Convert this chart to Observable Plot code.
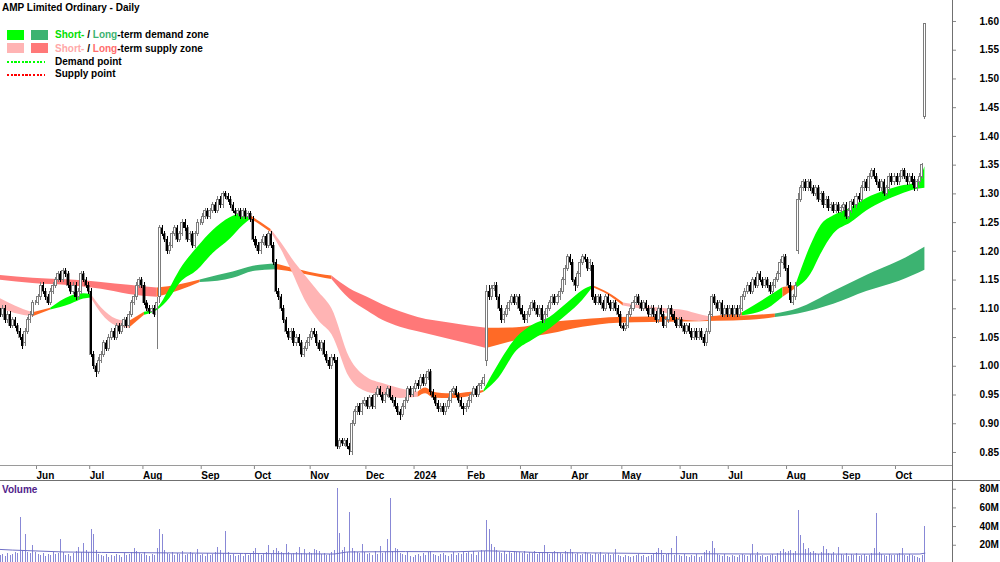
<!DOCTYPE html>
<html><head><meta charset="utf-8">
<script src="https://cdn.jsdelivr.net/npm/d3@7"></script>
<script src="https://cdn.jsdelivr.net/npm/@observablehq/plot@0.6"></script>
<style>
body{margin:0;background:#fff;font-family:"Liberation Sans",Arial,Helvetica,sans-serif;}
#wrap{position:relative;width:1000px;height:562px;overflow:hidden;background:#fff;}
.abs{position:absolute;}
.t{font-size:10px;font-weight:bold;color:#000;white-space:nowrap;line-height:10px;}
</style></head><body><div id="wrap"></div>
<script>
// ---------- DATA (prices in cents, one trading day per entry, 12 May 2023 .. 17 Oct 2024) ----------
const open = [
109.5,109,110,108,109,107,108,107,106,105,104,106,108,109,
111,111,112,114,113,112,111,113,114,115,116,115,116.5,116,114,113,114,112,113,116,115,
114,113,102,100,99,101,102,104,103,105,106,105,107,106,107,108,107,109,111,112,114,
115,114,111,110,109.5,110,110,112,124,123,122,120,121,123,124,122,123,125,124,122,123,121,123,
125,125,126,127,126,127,128,127,129,128,130,129.5,129,128,127,126.5,127,126,127,126,126.5,
125.5,122,121,120,121.5,122.5,121,123,121,118,113,112,110,108,106,105,106,104,105,104,102,103,
104,105,106,105.5,104,103,104,102,101,100,101.5,101,86,87,86.5,87,86,85,90,92,93,92,
93.5,94,93,94.5,93,95,96,95,94,95,96,94.5,94,93,92,91.5,93,94,96,
95,96,97,96.5,98,97,98,99,95.5,94.5,93.5,92.5,93,92,93,94,95.5,96,95,94,93,
92.5,93,94,95,96,95,96.5,97,101,113,112,113.5,114,112,110,108,109,110,111,112,111,
112,110,109,108,109,110,111,110,109,110,108,109,110,111,112,111,112,113,115,117,
119,118,115,114,116,118,119,118.5,117,117.5,112,111,112,111,110,112,111,110,111,110,
109,107,106.5,107,109,110,111,112,111,110,111,110,109,110,109,108,110,109,107,108,110,109,108,
107,108,107,106,107,106,105,106,105,106,105,104,106,109,112,111,110,111,109,
110,109,110,109,110,109,110,112,113,114,113,115,114,116,115,114,115,114,113,114,115,116,118,
119,117,114,111,112,120,129,131,132,131,132,131,130,131,129,130,128,129,127.5,128,127,128,
127,127.5,128,126,127,128.5,128,129.5,129,131,132,131,133,134,133,132,131,132,130,131,133,
132,133,132,133,134,133,132,133,132.5,131,132,133,143.3];
const high = [
110,110.5,110.5,109.5,109.5,108.5,108.5,107.5,106.5,105.5,106.5,108.5,109.5,111.5,
111.5,112.5,114.5,114.5,113.5,112.5,113.5,114.5,115.5,116.5,116.5,117,117,116.5,114.5,114.5,114.5,113.5,116.5,116.5,115.5,
114.5,113.5,102.5,100.5,101.5,102.5,104.5,104.5,105.5,106.5,106.5,107.5,107.5,107.5,108.5,108.5,109.5,111.5,112.5,114.5,115.5,
115.5,114.5,111.5,110.5,110.5,110.5,112,124.5,124.5,123.5,122.5,121.5,123.5,124.5,124.5,123.5,125.5,125.5,124.5,123.5,123.5,123.5,125.5,
125.5,126.5,127.5,127.5,127.5,128.5,128.5,129.5,129.5,130.5,130.5,130,129.5,128.5,127.5,127.5,127.5,127.5,127.5,127,127,
126,122.5,121.5,122,123,123,123.5,123.5,121.5,118.5,113.5,112.5,110.5,108.5,106.5,106.5,106.5,105.5,105.5,104.5,103.5,104.5,
105.5,106.5,106.5,106,104.5,104.5,104.5,102.5,101.5,102,102,101.5,87.5,87.5,87.5,87.5,86.5,90.5,92.5,93.5,93.5,94,
94.5,94.5,95,95,95.5,96.5,96.5,95.5,95.5,96.5,96.5,95,94.5,93.5,92.5,93.5,94.5,96.5,96.5,
96.5,97.5,97.5,98.5,98.5,98.5,99.5,99.5,96,95,94,93.5,93.5,93.5,94.5,96,96.5,96.5,95.5,94.5,93.5,
93.5,94.5,95.5,96.5,96.5,97,97.5,98.5,114,114,114,114.5,114.5,112.5,110.5,109.5,110.5,111.5,112.5,112.5,112.5,
112.5,110.5,109.5,109.5,110.5,111.5,111.5,110.5,110.5,110.5,109.5,110.5,111.5,112.5,112.5,112.5,113.5,115.5,117.5,119.5,
119.5,118.5,115.5,116.5,118.5,119.5,119.5,119,118.5,118,112.5,112.5,112.5,111.5,112.5,112.5,111.5,111.5,111.5,110.5,
109.5,107.5,107.5,109.5,110.5,111.5,112.5,112.5,111.5,111.5,111.5,110.5,110.5,110.5,109.5,110.5,110.5,109.5,108.5,110.5,110.5,109.5,108.5,
108.5,108.5,107.5,107.5,107.5,106.5,106.5,106.5,106.5,106.5,105.5,106.5,109.5,112.5,112.5,111.5,111.5,111.5,110.5,
110.5,110.5,110.5,110.5,110.5,110.5,112.5,113.5,114.5,114.5,115.5,115.5,116.5,116.5,115.5,115.5,115.5,114.5,114.5,115.5,116.5,118.5,119.5,
119.5,117.5,114.5,112.5,114.5,130,131.5,132.5,132.5,132.5,132.5,131.5,131.5,131.5,130.5,130.5,129.5,129.5,128.5,128.5,128.5,128.5,
128,128.5,128.5,127.5,129,129,130,130,131.5,132.5,132.5,133.5,134.5,134.5,133.5,132.5,132.5,132.5,131.5,133.5,133.5,
133.5,133.5,133.5,134.5,134.5,133.5,133.5,133.5,133,132.5,133.5,135.3,159.5];
const low = [
108.5,108.5,107.5,107.5,106.5,106.5,106.5,105.5,104.5,103,103.5,105.5,107.5,108.5,
110.5,110.5,111.5,112.5,111.5,110.5,110.5,112.5,113.5,114.5,114.5,114.5,115.5,113.5,112.5,112.5,111.5,111.5,112.5,114.5,113.5,
112.5,101.5,99.5,98,98.5,100.5,101.5,102.5,102.5,104.5,104.5,104.5,105.5,105.5,106.5,106.5,106.5,108.5,110.5,111.5,113.5,
113.5,110.5,109.5,109,109,108.5,103,111,122.5,121.5,119.5,119.5,120.5,122.5,121.5,121.5,122.5,123.5,121.5,121.5,120.5,120.5,122.5,
124.5,124.5,125.5,125.5,125.5,126.5,126.5,126.5,127.5,127.5,129,128.5,127.5,126.5,126,126,125.5,125.5,125.5,125.5,125,
121.5,120.5,119.5,119.5,121,120.5,120.5,120.5,117.5,112.5,111.5,109.5,107.5,105.5,104.5,104.5,103.5,103.5,103.5,101.5,101.5,102.5,
103.5,104.5,105,103.5,102.5,102.5,101.5,100.5,99.5,99.5,100.5,85.5,85.5,86,86,85.5,84.5,84.5,89.5,91.5,91.5,91.5,
93,92.5,92.5,92.5,92.5,94.5,94.5,93.5,93.5,94.5,94,93.5,92.5,91.5,90.5,91,92.5,93.5,94.5,
94.5,95.5,96,96,96.5,96.5,97.5,95,94,93,92,92,91.5,91.5,92.5,93.5,95,94.5,93.5,92.5,91.5,
92,92.5,93.5,94.5,94.5,94.5,96,96.5,100,111.5,111.5,113,111.5,109.5,107.5,107.5,108.5,109.5,110.5,110.5,110.5,
109.5,108.5,107.5,107.5,108.5,109.5,109.5,108.5,108.5,107.5,107.5,108.5,109.5,110.5,110.5,110.5,111.5,112.5,114,116.5,
117.5,114.5,113,113.5,115.5,117.5,118,116.5,116.5,111.5,110.5,110.5,110.5,109.5,109.5,110.5,109.5,109.5,109.5,108.5,
106.5,106,106,106.5,108.5,109.5,110.5,110.5,109.5,109.5,109.5,108.5,108.5,108.5,107.5,107.5,108.5,106.5,106.5,107.5,108.5,107.5,106.5,
106.5,106.5,105.5,105.5,105.5,104.5,104.5,104.5,104.5,104.5,103.5,103.5,105.5,108.5,110.5,109.5,109.5,108.5,108.5,
108.5,108.5,108.5,108.5,108.5,108.5,109.5,111.5,112.5,112.5,112.5,113.5,113.5,114.5,113.5,113.5,113.5,112.5,112.5,113.5,114.5,115.5,117.5,
116.5,113.5,111,110.5,111.5,119.5,128.5,130.5,130.5,130.5,130.5,129.5,129.5,128.5,128.5,127.5,127.5,127,127,126.5,126.5,126.5,
126.5,127,125.5,125.5,126.5,127.5,127.5,128.5,128.5,130.5,130.5,130.5,132.5,132.5,131.5,130.5,130.5,129.5,129.5,130.5,131.5,
131.5,131.5,131.5,132.5,132.5,131.5,131.5,131.5,130.5,130.5,131.5,132.5,143];
const close = [
109,110,108,109,107,108,107,106,105,103.5,106,108,109,111,
111,112,114,113,112,111,113,114,115,116,115,116.5,116,114,113,114,112,113,116,115,114,
113,102,100,99,101,102,104,103,105,106,105,107,106,107,108,107,109,111,112,114,115,
114,111,110,109.5,110,109,111,124,123,122,120,121,123,124,122,123,125,124,122,123,121,123,125,
125,126,127,126,127,128,127,129,128,130,129.5,129,128,127,126.5,127,126,127,126,126.5,125.5,
122,121,120,121.5,122.5,121,123,121,118,113,112,110,108,106,105,106,104,105,104,102,103,104,
105,106,105.5,104,103,104,102,101,100,101.5,101,86,87,86.5,87,86,85.5,90,92,93,92,93.5,
94,93,94.5,93,95,96,95,94,95,96,94.5,94,93,92,91.5,93,94,96,95,
96,97,96.5,98,97,98,99,95.5,94.5,93.5,92.5,93,92,93,94,95.5,96,95,94,93,92.5,
93,94,95,96,95,96.5,97,98,113,112,113.5,114,112,110,108,109,110,111,112,111,112,
110,109,108,109,110,111,110,109,110,108,109,110,111,112,111,112,113,115,117,119,
118,115,114,116,118,119,118.5,117,118,112,111,112,111,110,112,111,110,111,110,109,
107,106.5,107,109,110,111,112,111,110,111,110,109,110,109,108,110,109,107,108,110,109,108,107,
108,107,106,107,106,105,106,105,106,105,104,106,109,112,111,110,111,109,110,
109,110,109,110,109,110,112,113,114,113,115,114,116,115,114,115,114,113,114,115,116,118,119,
117,114,111.5,112,114,129,131,132,131,132,131,130,131,129,130,128,129,127.5,128,127,128,127,
127.5,128,126,127,128.5,128,129.5,129,131,132,131,133,134,133,132,131,132,130,131,133,132,
133,132,133,134,133,132,133,132,131,132,133,135,159.5];
// volume, millions of shares
const volume = [
9,10,8,11,9,10,12,11,50,14,31,12,11,20,
12,10,9,11,8,10,9,12,10,11,26,12,9,10,8,11,13,18,12,22,14,
12,37,31,14,10,9,8,10,7,9,8,10,9,7,11,9,10,12,17,13,11,
10,12,9,8,10,9,16,37,31,14,11,10,12,9,11,10,13,9,10,12,11,10,15,
9,10,8,11,9,10,12,18,14,11,35,12,9,10,8,9,11,8,10,9,10,
13,16,10,9,11,12,20,10,14,16,13,12,11,21,12,10,11,12,18,11,15,10,
12,11,15,14,13,10,11,9,10,12,14,81,33,14,18,12,55,16,13,12,11,21,
12,10,11,9,13,10,19,11,12,26,70,13,16,15,11,10,9,12,8,
7,9,10,8,11,9,12,13,10,9,8,10,11,9,8,10,12,9,11,10,12,
11,12,10,13,9,12,14,13,46,37,21,18,14,12,11,13,10,12,11,13,12,
12,11,13,10,12,11,13,10,12,11,20,12,10,11,13,12,11,10,13,12,
15,12,10,11,9,10,12,11,10,9,11,10,12,9,10,11,9,10,15,9,
8,7,9,8,7,8,9,10,8,9,7,8,9,10,12,17,14,9,10,11,16,9,29,
9,8,10,8,7,9,8,10,7,8,12,14,13,24,17,10,9,8,10,
8,7,9,8,7,9,10,9,8,10,21,9,12,8,9,7,8,9,10,8,11,13,15,
12,13,14,11,13,57,30,22,15,17,12,13,11,10,12,19,15,11,10,12,9,18,
10,9,11,8,10,9,11,8,9,10,8,9,11,16,54,12,10,9,8,10,9,
9,10,11,16,9,8,10,9,8,7,6,9,40];
// volume average line (day index, millions)
const volAvgIdx = [0,5,13,25,40,66,96,132,137,160,180,192,200,212,240,263,300,340,363,365];
const volAvg    = [15.5,14.8,14,12.8,12.3,11.8,11.2,10.6,12.8,13.2,13.0,14.0,13.5,12.2,11.6,11.0,10.6,10.5,10.6,11.5];
// short-term zone (day index, upper, lower, state S=supply D=demand N=neutral)
const shortIdx = [0,6,13,20,28,33,36,40,46,51,57,62,67,71,78,84,91,96,99,103,107,111,115,121,126,131,138,145,151,158,165,168,171,178,186,191,197,204,210,217,224,230,234,240,246,255,263,270,276,280,286,293,303,309,314,320,324,329,336,342,349,355,362,365];
const shortHi = [1.118,1.105,1.093,1.101,1.122,1.126,1.125,1.102,1.082,1.078,1.094,1.101,1.135,1.167,1.207,1.236,1.259,1.266,1.262,1.250,1.238,1.215,1.189,1.155,1.128,1.100,1.015,0.980,0.970,0.961,0.955,0.962,0.955,0.952,0.955,0.958,1.005,1.050,1.071,1.085,1.110,1.132,1.140,1.128,1.110,1.104,1.100,1.097,1.090,1.086,1.089,1.093,1.120,1.137,1.140,1.210,1.245,1.262,1.276,1.292,1.305,1.313,1.320,1.347];
const shortLo = [1.100,1.092,1.086,1.098,1.108,1.117,1.119,1.092,1.070,1.066,1.089,1.097,1.118,1.144,1.167,1.196,1.222,1.245,1.256,1.245,1.233,1.203,1.167,1.110,1.078,1.055,0.980,0.955,0.950,0.944,0.946,0.952,0.945,0.944,0.948,0.955,0.980,1.027,1.045,1.065,1.090,1.115,1.137,1.124,1.105,1.098,1.092,1.080,1.078,1.080,1.085,1.088,1.100,1.120,1.135,1.160,1.195,1.230,1.250,1.270,1.287,1.298,1.308,1.310];
const shortState = "SSNDDDSSSNDDDDDDDDNNSSSSSSSSSSNNNNNDDDDDDDNNSSSSSNNDDNDDDDDDDDDD".split("");
// long-term zone
const longIdx = [0,13,28,40,51,62,71,79,86,92,100,109,118,126,131,138,145,151,158,165,178,192,204,217,230,244,270,296,306,315,329,342,355,365];
const longHi = [1.158,1.153,1.150,1.146,1.141,1.136,1.142,1.150,1.158,1.164,1.174,1.178,1.168,1.160,1.157,1.135,1.120,1.107,1.095,1.085,1.075,1.066,1.067,1.076,1.081,1.085,1.086,1.088,1.091,1.100,1.130,1.158,1.183,1.207];
const longLo = [1.150,1.144,1.140,1.134,1.125,1.120,1.132,1.146,1.148,1.153,1.165,1.168,1.162,1.155,1.151,1.117,1.096,1.080,1.068,1.060,1.046,1.031,1.045,1.056,1.068,1.075,1.077,1.080,1.085,1.091,1.108,1.130,1.148,1.167];
const longState = "SSSSSNNDDDDNNNSSSSSSSNNNNNNNDDDDDD".split("");
// axes
const monthTicks = [14,35,56,79,100,122,144,163,184,205,225,245,268,287,310,332,353];
const monthLabels = ["Jun","Jul","Aug","Sep","Oct","Nov","Dec","2024","Feb","Mar","Apr","May","Jun","Jul","Aug","Sep","Oct"];
const priceTicks = [0.85,0.90,0.95,1.00,1.05,1.10,1.15,1.20,1.25,1.30,1.35,1.40,1.45,1.50,1.55,1.60];
const volTicks = [20,40,60,80];

// ---------- COLOURS ----------
const shortCol = {S:"#ffb4b4", D:"#00ff00", N:"#ff6a26"};
const longCol  = {S:"#ff7878", D:"#3cb371", N:"#ff6a26"};
const FONT = '"Liberation Sans", Arial, Helvetica, sans-serif';

// ---------- BUILD ----------
const wrap = document.getElementById("wrap");
try {
  const n = Math.min(open.length, high.length, low.length, close.length);
  const bars = d3.range(n).map(i => ({i, o: open[i]/100, h: high[i]/100, l: low[i]/100, c: close[i]/100, up: close[i] >= open[i]}));
  const vols = volume.map((v, i) => ({i, v}));
  const vavg = volAvgIdx.map((i, k) => ({i, v: volAvg[k]}));

  function zone(idx, hi, lo, st, col) {
    const out = []; let seg = -1, prev = null;
    for (let k = 0; k < idx.length - 1; k++) {
      if (st[k] !== prev) { seg++; prev = st[k]; }
      out.push({i: idx[k], hi: hi[k], lo: lo[k], seg, fill: col[st[k]]});
      if (k + 1 === idx.length - 1 || st[k + 1] !== st[k])
        out.push({i: idx[k+1], hi: hi[k+1], lo: lo[k+1], seg, fill: col[st[k]]});
    }
    return out;
  }
  const shortZone = zone(shortIdx, shortHi, shortLo, shortState, shortCol);
  const longZone  = zone(longIdx, longHi, longLo, longState, longCol);

  const xDomain = [0.1855, 375.89];
  const labelOf = new Map(monthTicks.map((t, k) => [t, monthLabels[k]]));
  const style = {fontFamily: FONT, fontSize: "10px", fontWeight: "bold", background: "transparent", overflow: "visible"};

  const price = Plot.plot({
    width: 1000, height: 482, marginLeft: 0, marginRight: 48, marginTop: 0, marginBottom: 16,
    x: {domain: xDomain, axis: null}, y: {domain: [0.8256, 1.6365], axis: null}, color: {type: "identity"}, style,
    marks: [
      Plot.areaY(longZone,  {x: "i", y1: "lo", y2: "hi", z: "seg", fill: "fill", curve: "monotone-x", clip: true}),
      Plot.areaY(shortZone, {x: "i", y1: "lo", y2: "hi", z: "seg", fill: "fill", curve: "monotone-x", clip: true}),
      Plot.ruleX(bars, {x: "i", y1: "l", y2: "h", stroke: d => d.up ? "#7c7c7c" : "#000", strokeWidth: 1, clip: true, shapeRendering: "crispEdges"}),
      Plot.rect(bars.filter(d => !d.up), {x1: d => d.i - 0.42, x2: d => d.i + 0.42, y1: "o", y2: "c", fill: "#000", stroke: "#000", strokeWidth: 0.4, clip: true, shapeRendering: "crispEdges"}),
      Plot.rect(bars.filter(d => d.up), {x1: d => d.i - 0.4, x2: d => d.i + 0.4, y1: "o", y2: "c", fill: "#fff", stroke: "#7c7c7c", strokeWidth: 1, clip: true, shapeRendering: "crispEdges"}),
      Plot.axisX(monthTicks, {anchor: "bottom", label: null, tickSize: 3, tickPadding: 2, tickFormat: d => labelOf.get(d), textAnchor: "start", dx: 1, stroke: "#888", fill: "#000", fontWeight: "bold"}),
      Plot.axisY(priceTicks, {anchor: "right", label: null, tickSize: 3, tickPadding: 24, tickFormat: d3.format(".2f"), stroke: "#888", fill: "#000", fontWeight: "bold"})
    ]
  });
  price.style.position = "absolute"; price.style.left = "0px"; price.style.top = "0px";
  wrap.appendChild(price);

  const vol = Plot.plot({
    width: 1000, height: 81, marginLeft: 0, marginRight: 48, marginTop: 0, marginBottom: 0,
    x: {domain: xDomain, axis: null}, y: {domain: [1.5, 88.3], axis: null}, style,
    marks: [
      Plot.ruleX(vols, {x: "i", y1: 0, y2: "v", stroke: "#8888d6", strokeWidth: 1, clip: true, shapeRendering: "crispEdges"}),
      Plot.line(vavg, {x: "i", y: "v", stroke: "#6f6fc6", strokeWidth: 1, clip: true}),
      Plot.axisY(volTicks, {anchor: "right", label: null, tickSize: 3, tickPadding: 24, tickFormat: d => d + "M", stroke: "#888", fill: "#000", fontWeight: "bold"})
    ]
  });
  vol.style.position = "absolute"; vol.style.left = "0px"; vol.style.top = "481px";
  wrap.appendChild(vol);
} catch (e) {
  const p = document.createElement("pre"); p.textContent = e.stack; wrap.appendChild(p);
}

// ---------- FRAME LINES, TITLE, LEGEND ----------
function add(html) { wrap.insertAdjacentHTML("beforeend", html); }
add('<div class="abs" style="left:0;top:465px;width:952px;height:1px;background:#9a9a9a"></div>');
add('<div class="abs" style="left:0;top:480px;width:1000px;height:1px;background:#707070"></div>');
add('<div class="abs" style="left:952px;top:0;width:1px;height:562px;background:#707070"></div>');
add('<div class="abs t" style="left:2px;top:2.5px">AMP Limited Ordinary - Daily</div>');
add('<div class="abs" style="left:7px;top:30px;width:17px;height:10px;background:#00ff00"></div>');
add('<div class="abs" style="left:31px;top:30px;width:17px;height:10px;background:#3cb371"></div>');
add('<div class="abs" style="left:7px;top:43px;width:17px;height:10px;background:#ffb4b4"></div>');
add('<div class="abs" style="left:31px;top:43px;width:17px;height:10px;background:#ff7878"></div>');
add('<div class="abs" style="left:7px;top:61px;width:38px;height:2px;background:repeating-linear-gradient(90deg,#00ff00 0 2.2px,transparent 2.2px 3.7px)"></div>');
add('<div class="abs" style="left:7px;top:73.5px;width:38px;height:2px;background:repeating-linear-gradient(90deg,#ff0000 0 2.2px,transparent 2.2px 3.7px)"></div>');
add('<div class="abs t" style="left:55px;top:29.5px"><span style="color:#00e000">Short-</span> / <span style="color:#3cb371">Long</span>-term demand zone</div>');
add('<div class="abs t" style="left:55px;top:43.5px"><span style="color:#ffa8a8">Short-</span> / <span style="color:#ff6c6c">Long</span>-term supply zone</div>');
add('<div class="abs t" style="left:55px;top:57.2px">Demand point</div>');
add('<div class="abs t" style="left:55px;top:69.2px">Supply point</div>');
add('<div class="abs t" style="left:2px;top:484.8px;color:#50228a">Volume</div>');
</script></body></html>
